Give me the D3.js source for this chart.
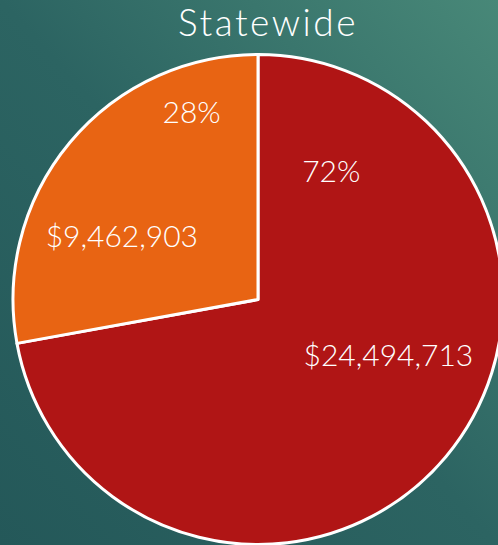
<!DOCTYPE html>
<html>
<head>
<meta charset="utf-8">
<script src="https://cdn.jsdelivr.net/npm/d3@7"></script>
<style>
	html, body { margin: 0; padding: 0; overflow: hidden; }
	svg { display: block; }
</style>
</head>
<body>
<svg id="chart" width="498" height="545"></svg>
<script>
const categories = ['Red', 'Orange'];
const values = [24494713, 9462903];
const colors = ['#B01515', '#E86413'];
const title = 'Statewide';

// label angle (deg, clockwise from top) and radius for pct and amount
const labelPlaces = [
	{ pct: [29.7, 148], amt: [113.3, 142] },
	{ pct: [340.5, 199], amt: [294.8, 150] },
];

const width = 498, height = 545;
const cx = 258, cy = 299.5, radius = 245;

const svg = d3.select('#chart');

const defs = svg.append('defs');
const grad = defs.append('linearGradient')
	.attr('id', 'bg')
	.attr('x1', '0%').attr('y1', '100%')
	.attr('x2', '100%').attr('y2', '0%');
grad.append('stop').attr('offset', '0%').attr('stop-color', '#245859');
grad.append('stop').attr('offset', '50%').attr('stop-color', '#2C6462');
grad.append('stop').attr('offset', '100%').attr('stop-color', '#488878');

svg.append('rect')
	.attr('width', width)
	.attr('height', height)
	.attr('fill', 'url(#bg)');

svg.append('text')
	.attr('x', 268)
	.attr('y', 36)
	.attr('text-anchor', 'middle')
	.style('font-family', 'Lato, sans-serif')
	.style('font-weight', 300)
	.style('font-size', '37px')
	.style('letter-spacing', '2.5px')
	.style('fill', '#fff')
	.text(title);

const total = d3.sum(values);
const pie = d3.pie().sort(null).value((d) => d.value);
const arc = d3.arc().innerRadius(0).outerRadius(radius);

const data = categories.map((c, i) => ({ name: c, value: values[i], color: colors[i] }));
const arcs = pie(data);

const g = svg.append('g').attr('transform', `translate(${cx},${cy})`);

g.selectAll('.slice')
	.data(arcs)
	.join('path')
	.attr('class', 'slice')
	.attr('d', arc)
	.style('fill', (d) => d.data.color)
	.style('stroke', '#fff')
	.style('stroke-width', 3)
	.style('stroke-linejoin', 'round');

const pos = ([deg, r]) => {
	const a = (deg * Math.PI) / 180;
	return d3.arc().innerRadius(r).outerRadius(r).startAngle(a).endAngle(a).centroid();
};

const fmt = d3.format('$,');
const labels = [];
arcs.forEach((d, i) => {
	labels.push({ text: Math.round((d.value / total) * 100) + '%', p: pos(labelPlaces[i].pct) });
	labels.push({ text: fmt(d.value), p: pos(labelPlaces[i].amt) });
});

g.selectAll('.label')
	.data(labels)
	.join('text')
	.attr('class', 'label')
	.attr('x', (d) => d.p[0])
	.attr('y', (d) => d.p[1])
	.attr('dy', '0.36em')
	.attr('text-anchor', 'middle')
	.style('font-family', 'Lato, sans-serif')
	.style('font-weight', 300)
	.style('font-size', '30px')
	.style('fill', '#fff')
	.text((d) => d.text);
</script>
</body>
</html>
